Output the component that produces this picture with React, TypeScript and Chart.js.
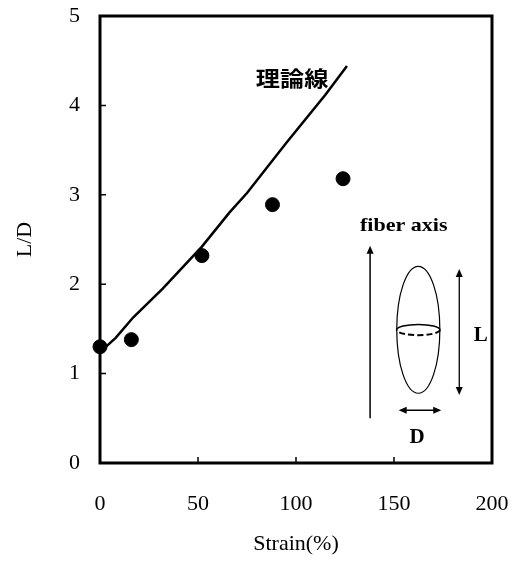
import React, { useEffect, useRef } from 'react';
import { Chart, registerables } from 'chart.js';

Chart.register(...registerables);

// Measured data (Strain %, L/D)
const strainPoints = [0, 16, 52, 88, 124];
const ldPoints = [1.3, 1.38, 2.32, 2.89, 3.18];

// Theoretical line
const theoryStrain = [0, 8, 17, 32, 52, 66, 75, 95, 115, 126];
const theoryLD = [1.24, 1.4, 1.63, 1.95, 2.42, 2.8, 3.02, 3.58, 4.12, 4.44];

// Tick values
const xTicks = [0, 50, 100, 150, 200];
const yTicks = [0, 1, 2, 3, 4, 5];

const SERIF = '"Liberation Serif", "DejaVu Serif", serif';

function arrowHead(ctx: CanvasRenderingContext2D, x: number, y: number, angle: number) {
  const len = 8;
  const half = 3.5;
  ctx.save();
  ctx.translate(x, y);
  ctx.rotate(angle);
  ctx.beginPath();
  ctx.moveTo(0, 0);
  ctx.lineTo(-len, -half);
  ctx.lineTo(-len, half);
  ctx.closePath();
  ctx.fill();
  ctx.restore();
}

function wideText(ctx: CanvasRenderingContext2D, text: string, x: number, y: number, sx: number) {
  ctx.save();
  ctx.translate(x, y);
  ctx.scale(sx, 1);
  ctx.fillText(text, 0, 0);
  ctx.restore();
}

const framePlugin = {
  id: 'frame',
  beforeDatasetsDraw(chart: any) {
    const { ctx, chartArea: a, scales } = chart;
    ctx.save();
    ctx.strokeStyle = '#000';
    ctx.lineWidth = 3;
    ctx.strokeRect(a.left, a.top, a.right - a.left, a.bottom - a.top);
    ctx.lineWidth = 1.5;
    ctx.beginPath();
    for (const v of xTicks) {
      const px = scales.x.getPixelForValue(v);
      ctx.moveTo(px, a.bottom);
      ctx.lineTo(px, a.bottom - 6);
    }
    for (const v of yTicks) {
      const py = scales.y.getPixelForValue(v);
      ctx.moveTo(a.left, py);
      ctx.lineTo(a.left + 6, py);
    }
    ctx.stroke();
    ctx.restore();
  },
};

const insetPlugin = {
  id: 'inset',
  afterDraw(chart: any) {
    const { ctx, scales } = chart;
    const X = (v: number) => scales.x.getPixelForValue(v);
    const Y = (v: number) => scales.y.getPixelForValue(v);
    ctx.save();
    ctx.fillStyle = '#000';
    ctx.strokeStyle = '#000';
    ctx.textAlign = 'center';
    ctx.textBaseline = 'middle';

    // 理論線 label
    ctx.font = 'bold 21px "Noto Sans CJK JP", "Noto Sans CJK SC", sans-serif';
    wideText(ctx, '理論線', X(98), Y(4.31), 1.15);

    // fiber axis label
    ctx.font = `bold 19px ${SERIF}`;
    wideText(ctx, 'fiber axis', X(155), Y(2.65), 1.16);

    // fiber axis arrow
    ctx.lineWidth = 1.5;
    ctx.beginPath();
    ctx.moveTo(X(137.8), Y(0.5));
    ctx.lineTo(X(137.8), Y(2.38));
    ctx.stroke();
    arrowHead(ctx, X(137.8), Y(2.43), -Math.PI / 2);

    // ellipse
    const cx = X(162.4);
    const cy = Y(1.49);
    const rx = X(173.4) - X(162.4);
    const ry = Y(0.78) - Y(1.49);
    ctx.lineWidth = 1.2;
    ctx.beginPath();
    ctx.ellipse(cx, cy, rx, ry, 0, 0, Math.PI * 2);
    ctx.stroke();
    // equator band
    const ery = Y(1.43) - Y(1.49);
    ctx.lineWidth = 1.6;
    ctx.beginPath();
    ctx.ellipse(cx, cy, rx, ery, 0, Math.PI, Math.PI * 2);
    ctx.stroke();
    ctx.setLineDash([6, 3]);
    ctx.lineWidth = 2;
    ctx.beginPath();
    ctx.ellipse(cx, cy, rx, ery, 0, 0, Math.PI);
    ctx.stroke();
    ctx.setLineDash([]);

    // L arrow
    const lx = X(183.3);
    ctx.lineWidth = 1.3;
    ctx.beginPath();
    ctx.moveTo(lx, Y(2.12));
    ctx.lineTo(lx, Y(0.81));
    ctx.stroke();
    arrowHead(ctx, lx, Y(2.17), -Math.PI / 2);
    arrowHead(ctx, lx, Y(0.76), Math.PI / 2);
    ctx.font = `bold 21px ${SERIF}`;
    ctx.fillText('L', X(194.2), Y(1.43));

    // D arrow
    const dy = Y(0.59);
    ctx.beginPath();
    ctx.moveTo(X(154.5), dy);
    ctx.lineTo(X(172), dy);
    ctx.stroke();
    arrowHead(ctx, X(152.4), dy, Math.PI);
    arrowHead(ctx, X(174.1), dy, 0);
    ctx.fillText('D', X(161.8), Y(0.28));

    ctx.restore();
  },
};

export default function App() {
  const ref = useRef<HTMLCanvasElement | null>(null);

  useEffect(() => {
    if (!ref.current) return;
    const chart = new Chart(ref.current, {
      type: 'scatter',
      data: {
        datasets: [
          {
            type: 'line',
            label: '理論線',
            data: theoryStrain.map((x, i) => ({ x, y: theoryLD[i] })),
            borderColor: '#000',
            borderWidth: 2.5,
            pointRadius: 0,
            fill: false,
            tension: 0,
            clip: false as any,
          },
          {
            type: 'scatter',
            label: 'L/D',
            data: strainPoints.map((x, i) => ({ x, y: ldPoints[i] })),
            backgroundColor: '#000',
            borderColor: '#000',
            pointRadius: 7,
            pointHoverRadius: 7,
            clip: false as any,
          },
        ],
      },
      options: {
        responsive: false,
        animation: false,
        events: [],
        layout: { padding: { left: 0, right: 21, top: 16, bottom: 0 } },
        plugins: { legend: { display: false }, tooltip: { enabled: false } },
        scales: {
          x: {
            type: 'linear',
            min: 0,
            max: 200,
            afterBuildTicks: (s: any) => {
              s.ticks = xTicks.map((v) => ({ value: v }));
            },
            afterFit: (s: any) => {
              s.height = 98;
              s.paddingLeft = 0;
              s.paddingRight = 0;
            },
            grid: { display: false, drawTicks: false },
            border: { display: false },
            ticks: {
              padding: 28,
              color: '#000',
              font: { family: SERIF, size: 22 },
              maxRotation: 0,
            },
            title: {
              display: true,
              text: 'Strain(%)',
              color: '#000',
              font: { family: SERIF, size: 22 },
              padding: { top: 0, bottom: 4 },
            },
          },
          y: {
            type: 'linear',
            min: 0,
            max: 5,
            afterBuildTicks: (s: any) => {
              s.ticks = yTicks.map((v) => ({ value: v }));
            },
            afterFit: (s: any) => {
              s.width = 100;
              s.paddingTop = 0;
              s.paddingBottom = 0;
            },
            grid: { display: false, drawTicks: false },
            border: { display: false },
            ticks: {
              padding: 20,
              color: '#000',
              font: { family: SERIF, size: 22 },
            },
            title: {
              display: true,
              text: 'L/D',
              color: '#000',
              font: { family: SERIF, size: 22 },
              padding: { top: 12, bottom: 0 },
            },
          },
        },
      },
      plugins: [framePlugin, insetPlugin],
    } as any);
    return () => chart.destroy();
  }, []);

  return (
    <div style={{ position: 'absolute', left: 0, top: 0, width: 513, height: 561, background: '#fff' }}>
      <canvas ref={ref} width={513} height={561} style={{ display: 'block' }} />
    </div>
  );
}
